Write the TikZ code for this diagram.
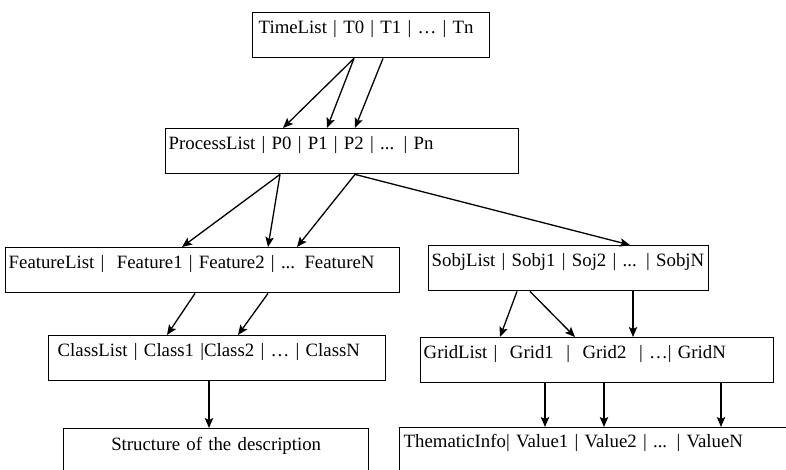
\documentclass[tikz,border=0pt]{standalone}
\usepackage{fontspec}
\setmainfont{Liberation Serif}
\usetikzlibrary{arrows.meta}

\tikzset{
    listbox/.style={draw, line width=0.7pt, anchor=north west, align=left, inner ysep=0pt,
        text height=10.5pt, text depth=12pt, font=\fontsize{9.4}{11}\selectfont},
    link/.style={-{Stealth[length=5pt,width=4.2pt,inset=1pt]}, line width=0.65pt}
}

\begin{document}
\begin{tikzpicture}[x=0.5pt, y=-0.5pt]
    \useasboundingbox (0,0) rectangle (786,470);
    \clip (0,0) rectangle (786,470);

    % Time and process lists
    \node [listbox, inner xsep=3pt, text width=112.5pt] (time) at (252,12) {TimeList | T0 | T1 | … | Tn};
    \node [listbox, inner xsep=1.5pt, text width=173.5pt] (proc) at (165,128) {ProcessList | P0 | P1 | P2 | ... | Pn};

    % Left branch
    \node [listbox, inner xsep=1.5pt, text width=194pt] (feat) at (5,247) {FeatureList |\ \ Feature1 | Feature2 | ... FeatureN};
    \node [listbox, inner xsep=4.5pt, text width=159.5pt] (class) at (48,335) {ClassList | Class1 |Class2 | … | ClassN};
    \node [listbox, align=center, inner xsep=0pt, text width=152.5pt, text height=11pt, text depth=20pt] (desc) at (63,428) {Structure of the description};

    % Right branch
    \node [listbox, inner xsep=1.5pt, text width=137pt] (sobj) at (428,245) {SobjList | Sobj1 | Soj2 | ... | SobjN};
    \node [listbox, inner xsep=1.5pt, text width=173.5pt] (grid) at (420,337) {GridList |\ \ Grid1\ \ |\ \ Grid2\ \ | …| GridN};
    \node [listbox, inner xsep=2pt, text width=200pt, text height=10pt, text depth=20pt] (theme) at (399,427) {ThematicInfo| Value1 | Value2 | ... | ValueN};

    % Links
    \draw [link] ([xshift=51pt]time.south west) -- ([xshift=59pt]proc.north west);
    \draw [link] ([xshift=51pt]time.south west) -- ([xshift=81pt]proc.north west);
    \draw [link] ([xshift=65.5pt]time.south west) -- ([xshift=95pt]proc.north west);

    \draw [link] ([xshift=57.5pt]proc.south west) -- ([xshift=88.5pt]feat.north west);
    \draw [link] ([xshift=57.5pt]proc.south west) -- ([xshift=131.5pt]feat.north west);
    \draw [link] ([xshift=95pt]proc.south west) -- ([xshift=146pt]feat.north west);
    \draw [link] ([xshift=95pt]proc.south west) -- ([xshift=101pt]sobj.north west);

    \draw [link] ([xshift=95pt]feat.south west) -- ([xshift=59.5pt]class.north west);
    \draw [link] ([xshift=131.5pt]feat.south west) -- ([xshift=95pt]class.north west);
    \draw [link] ([xshift=80.5pt]class.south west) -- ([xshift=73pt]desc.north west);

    \draw [link] ([xshift=44.5pt]sobj.south west) -- ([xshift=40pt]grid.north west);
    \draw [link] ([xshift=51pt]sobj.south west) -- ([xshift=77.5pt]grid.north west);
    \draw [link] ([xshift=102.5pt]sobj.south west) -- ([xshift=106.5pt]grid.north west);

    \draw [link] ([xshift=62.5pt]grid.south west) -- ([xshift=73pt]theme.north west);
    \draw [link] ([xshift=92pt]grid.south west) -- ([xshift=102.5pt]theme.north west);
    \draw [link] ([xshift=150.5pt]grid.south west) -- ([xshift=161pt]theme.north west);
\end{tikzpicture}
\end{document}
